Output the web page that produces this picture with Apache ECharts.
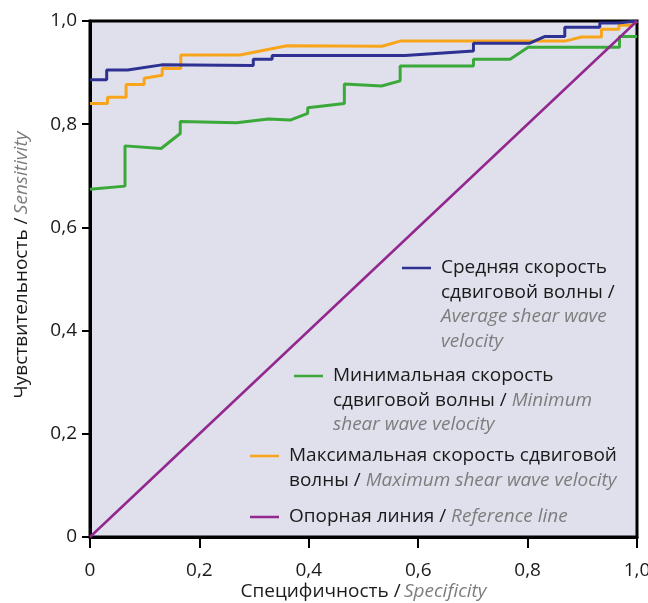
<!DOCTYPE html>
<html>
<head>
<meta charset="utf-8">
<script src="https://cdn.jsdelivr.net/npm/echarts@6/dist/echarts.min.js"></script>
<style>
  html, body { margin: 0; padding: 0; background: #ffffff; }
  #chart { width: 648px; height: 603px; }
</style>
</head>
<body>
<div id="chart"></div>
<script>
// ROC curves: [specificity, sensitivity]
var avgVelocity = [
  [0, 0.886], [0.0305, 0.886], [0.0305, 0.905], [0.069, 0.905], [0.131, 0.915],
  [0.2985, 0.914], [0.2985, 0.926], [0.333, 0.926], [0.333, 0.933], [0.576, 0.933],
  [0.701, 0.942], [0.701, 0.957], [0.804, 0.957], [0.832, 0.970], [0.868, 0.970],
  [0.868, 0.988], [0.932, 0.988], [0.932, 0.996], [0.965, 0.996], [1, 1]
];
var minVelocity = [
  [0, 0.674], [0.064, 0.680], [0.064, 0.758], [0.130, 0.753], [0.165, 0.782],
  [0.165, 0.805], [0.268, 0.803], [0.326, 0.810], [0.366, 0.808], [0.398, 0.821],
  [0.398, 0.832], [0.465, 0.840], [0.465, 0.878], [0.533, 0.874], [0.567, 0.884],
  [0.567, 0.913], [0.701, 0.913], [0.701, 0.926], [0.768, 0.926], [0.801, 0.949],
  [0.968, 0.949], [0.968, 0.970], [1, 0.970]
];
var maxVelocity = [
  [0, 0.840], [0.032, 0.840], [0.032, 0.852], [0.066, 0.852], [0.066, 0.877],
  [0.099, 0.877], [0.099, 0.889], [0.132, 0.895], [0.132, 0.908], [0.166, 0.908],
  [0.166, 0.934], [0.274, 0.934], [0.360, 0.952], [0.534, 0.951], [0.567, 0.961],
  [0.868, 0.961], [0.899, 0.969], [0.935, 0.969], [0.935, 0.984], [0.967, 0.984],
  [0.967, 0.992], [0.990, 0.992], [1, 1]
];
var referenceLine = [[0, 0], [1, 1]];

var xTickLabels = ['0', '0,2', '0,4', '0,6', '0,8', '1,0'];
var yTickLabels = ['0', '0,2', '0,4', '0,6', '0,8', '1,0'];

var legendLines = {
  avg: [['ru', 'Средняя скорость'], ['ru', 'сдвиговой волны /'], ['en', 'Average shear wave'], ['en', 'velocity']],
  min: [['ru', 'Минимальная скорость'], ['ru', 'сдвиговой волны / ', 'en', 'Minimum'], ['en', 'shear wave velocity']],
  max: [['ru', 'Максимальная скорость сдвиговой'], ['ru', 'волны / ', 'en', 'Maximum shear wave velocity']],
  ref: [['ru', 'Опорная линия / ', 'en', 'Reference line']]
};

var FONT = 'Open Sans';
var FS = 19;
var LH = 24.5;
var rich = {
  ru: { color: '#1a1a1a', fontSize: FS, fontFamily: FONT, lineHeight: LH },
  en: { color: '#7d7d7d', fontSize: FS, fontFamily: FONT, fontStyle: 'italic', lineHeight: LH }
};

function richLines(lines) {
  return lines.map(function (parts) {
    var s = '';
    for (var i = 0; i < parts.length; i += 2) {
      s += '{' + parts[i] + '|' + parts[i + 1] + '}';
    }
    return s;
  }).join('\n');
}

// one legend block per series, icon aligned with the first text line
function legendBlock(name, iconLeft, iconY) {
  var n = legendLines[name].length;
  return {
    data: [name],
    left: iconLeft,
    top: iconY - 7.5,
    orient: 'vertical',
    padding: 0,
    icon: 'rect',
    itemWidth: 29,
    itemHeight: 2.5,
    selectedMode: false,
    formatter: function () { return richLines(legendLines[name]); },
    textStyle: { padding: [(n - 1) * LH, 0, 0, 5], rich: rich }
  };
}

var chart = echarts.init(document.getElementById('chart'));
chart.setOption({
  animation: false,
  grid: {
    left: 90, right: 11, top: 21, bottom: 66,
    outerBoundsMode: 'none',
    show: true,
    backgroundColor: '#dfe0ec',
    borderColor: '#000000',
    borderWidth: 3
  },
  legend: [
    legendBlock('avg', 402, 266),
    legendBlock('min', 294, 374),
    legendBlock('max', 250, 454),
    legendBlock('ref', 250, 515)
  ],
  xAxis: {
    type: 'value', min: 0, max: 1, interval: 0.2,
    name: '{ru|Специфичность /} {en|Specificity}',
    nameLocation: 'middle', nameGap: 42, nameMoveOverlap: false,
    nameTextStyle: { rich: rich },
    axisLine: { lineStyle: { color: '#000', width: 3 } },
    axisTick: { length: 11, lineStyle: { color: '#000', width: 2 } },
    axisLabel: {
      margin: 24, color: '#1a1a1a', fontSize: FS, fontFamily: FONT,
      formatter: function (v) { return xTickLabels[Math.round(v / 0.2)]; }
    },
    splitLine: { show: false }
  },
  yAxis: {
    type: 'value', min: 0, max: 1, interval: 0.2,
    name: '{ru|Чувствительность /} {en|Sensitivity}',
    nameLocation: 'middle', nameGap: 56, nameMoveOverlap: false,
    nameTextStyle: { rich: rich, padding: [0, 0, 0, 28] },
    axisLine: { lineStyle: { color: '#000', width: 3 } },
    axisTick: { length: 8, lineStyle: { color: '#000', width: 2 } },
    axisLabel: {
      margin: 13, color: '#1a1a1a', fontSize: FS, fontFamily: FONT,
      formatter: function (v) { return yTickLabels[Math.round(v / 0.2)]; }
    },
    splitLine: { show: false }
  },
  series: [
    { name: 'avg', type: 'line', data: avgVelocity, showSymbol: false, z: 3,
      lineStyle: { color: '#2e3192', width: 3 }, itemStyle: { color: '#2e3192' } },
    { name: 'min', type: 'line', data: minVelocity, showSymbol: false, z: 2,
      lineStyle: { color: '#3ba93a', width: 3 }, itemStyle: { color: '#3ba93a' } },
    { name: 'max', type: 'line', data: maxVelocity, showSymbol: false, z: 2,
      lineStyle: { color: '#f9a51b', width: 3 }, itemStyle: { color: '#f9a51b' } },
    { name: 'ref', type: 'line', data: referenceLine, showSymbol: false, z: 4,
      lineStyle: { color: '#92278f', width: 2.5 }, itemStyle: { color: '#92278f' } }
  ]
});
</script>
</body>
</html>
